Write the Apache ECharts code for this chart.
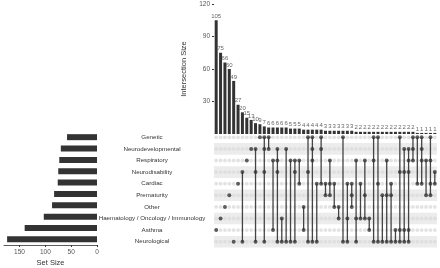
<!DOCTYPE html>
<html>
<head>
<meta charset="utf-8">
<script src="https://cdn.jsdelivr.net/npm/echarts@6/dist/echarts.min.js"></script>
<style>
  html, body { margin: 0; padding: 0; background: #fff; }
  #chart { width: 440px; height: 268px; }
</style>
</head>
<body>
<div id="chart"></div>
<script>
// sets, top to bottom as in the matrix
const setNames = ['Genetic', 'Neurodevelopmental', 'Respiratory', 'Neurodisability', 'Cardiac',
  'Prematurity', 'Other', 'Haematology / Oncology / Immunology', 'Asthma', 'Neurological'];
const setSizes = [58, 70, 73, 75, 76, 83, 87, 103, 140, 174];

const intersectionSizes = [105, 75, 66, 60, 49, 27, 20, 15, 13, 10, 9, 7, 6, 6, 6, 6, 6, 5, 5, 5,
  4, 4, 4, 4, 4, 3, 3, 3, 3, 3, 3, 3, 2, 2, 2, 2, 2, 2, 2, 2, 2, 2, 2, 2, 2, 2, 1, 1, 1, 1, 1];

// set indices (into setNames) that make up each intersection column
const intersectionSets = [
  [8], [7], [6], [5], [9], [4], [3, 9], [2], [1], [1, 3, 9],
  [0], [0, 1, 3, 9], [0, 1], [2, 8], [1, 2, 3, 9], [7, 9], [1, 9], [2, 9], [2, 3, 9], [2, 4],
  [6, 8], [0, 3, 9], [0, 1, 2, 9], [4, 9], [0, 1, 4], [4, 5], [2, 4, 5], [4, 6], [6, 7], [0, 9],
  [4, 7, 9], [4, 5, 6], [2, 7, 9], [4, 7], [2, 5, 7], [7, 8], [0, 2, 9], [0, 4, 9], [5, 9], [2, 5, 9],
  [4, 5, 9], [8, 9], [0, 3, 8, 9], [1, 3, 8, 9], [1, 2, 3, 8, 9], [0, 1, 2], [0, 4], [0, 1, 2, 4], [2, 5], [0, 2, 4, 5],
  [3, 4]
];

const cols = intersectionSizes.map((_, i) => String(i));
const rowNames = setNames.slice().reverse();   // category axis runs bottom -> top
const rowOf = (s) => setNames.length - 1 - s;

let inactive = [], active = [], links = [];
intersectionSets.forEach((sets, c) => {
  for (let s = 0; s < setNames.length; s++) {
    if (sets.includes(s)) active.push([c, rowOf(s)]);
    else inactive.push([c, rowOf(s)]);
  }
  if (sets.length > 1) {
    let rows = sets.map(rowOf);
    links.push([c, Math.min(...rows), Math.max(...rows)]);
  }
});

const font = 'Liberation Sans, Arial, sans-serif';
const chart = echarts.init(document.getElementById('chart'));

chart.setOption({
  animation: false,
  textStyle: { fontFamily: font },
  grid: [
    { left: 214, right: 3, top: 4, height: 130 },
    { left: 214, right: 3, top: 131.5, height: 116 },
    { left: 4, width: 93, top: 131.5, height: 116 }
  ],
  xAxis: [
    { gridIndex: 0, type: 'category', data: cols, show: false },
    { gridIndex: 1, type: 'category', data: cols, show: false },
    {
      gridIndex: 2, type: 'value', inverse: true, min: 0, max: 180, interval: 50,
      axisLine: { show: true, lineStyle: { color: '#333', width: 0.8 } },
      axisTick: { show: true, length: 2, lineStyle: { color: '#333' } },
      axisLabel: { fontSize: 6.5, color: '#555', margin: 4, showMaxLabel: false },
      splitLine: { show: false },
      name: 'Set Size', nameLocation: 'middle', nameGap: 14,
      nameTextStyle: { fontSize: 7.5, color: '#333' }
    }
  ],
  yAxis: [
    {
      gridIndex: 0, type: 'value', min: 0, max: 120, interval: 30,
      axisLine: { show: false },
      axisTick: { show: true, length: 2, lineStyle: { color: '#333' } },
      axisLabel: { fontSize: 6.5, color: '#555', margin: 4, showMinLabel: false },
      splitLine: { show: false },
      name: 'Intersection Size', nameLocation: 'middle', nameGap: 17, nameRotate: 90,
      nameTextStyle: { fontSize: 7.5, color: '#333' }
    },
    {
      gridIndex: 1, type: 'category', data: rowNames,
      axisLine: { show: false }, axisTick: { show: false },
      axisLabel: { fontSize: 6.2, color: '#333', align: 'center', margin: 62 },
      splitArea: { show: true, areaStyle: { color: ['#ececec', 'rgba(0,0,0,0)'] } }
    },
    { gridIndex: 2, type: 'category', data: rowNames, show: false }
  ],
  series: [
    {
      type: 'bar', xAxisIndex: 0, yAxisIndex: 0, data: intersectionSizes, barWidth: 3,
      itemStyle: { color: '#333' },
      label: { show: true, position: 'top', distance: 1, fontSize: 6, color: '#666' }
    },
    {
      type: 'bar', xAxisIndex: 2, yAxisIndex: 2, data: setSizes.slice().reverse(), barWidth: 6,
      itemStyle: { color: '#333' }
    },
    {
      type: 'scatter', xAxisIndex: 1, yAxisIndex: 1, data: inactive, symbolSize: 3.8,
      itemStyle: { color: '#dcdcdc' }, z: 2
    },
    {
      type: 'custom', xAxisIndex: 1, yAxisIndex: 1, data: links, z: 3,
      renderItem: function (params, api) {
        const a = api.coord([api.value(0), api.value(1)]);
        const b = api.coord([api.value(0), api.value(2)]);
        return {
          type: 'line',
          shape: { x1: a[0], y1: a[1], x2: b[0], y2: b[1] },
          style: { stroke: '#444', lineWidth: 1.3 }
        };
      }
    },
    {
      type: 'scatter', xAxisIndex: 1, yAxisIndex: 1, data: active, symbolSize: 4,
      itemStyle: { color: '#333' }, z: 4
    }
  ]
});
</script>
</body>
</html>
